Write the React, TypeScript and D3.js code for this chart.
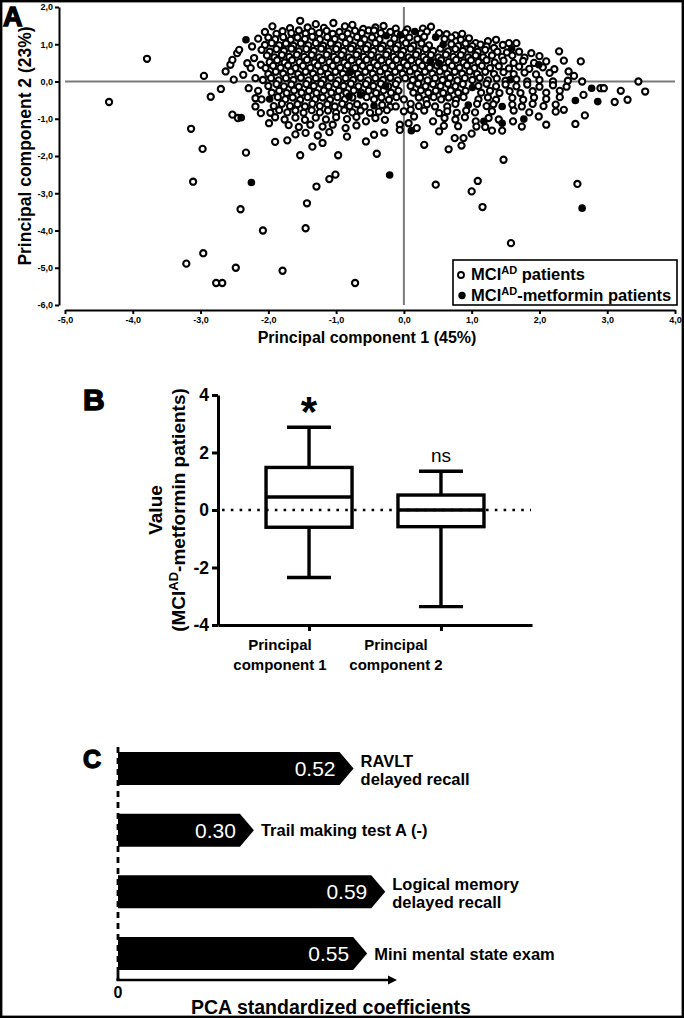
import React, { useEffect, useRef } from "react";
import * as d3 from "d3";

// ---------- Panel A : PCA scores ----------
const mciLeftFringe: [number, number][] = [
  [-2.95, 0.15], [-2.85, -0.41], [-2.7, -0.2], [-2.63, 0.27], [-2.56, 0.45], [-2.53, 0.58],
  [-2.46, 0.76], [-2.43, 0.85], [-2.51, 0.05], [-2.31, 0.49], [-2.29, -0.18], [-2.24, 0.94],
  [-2.21, 0.63], [-2.26, 0.36], [-2.11, 0.45], [-2.19, 0.09], [-2.19, -0.45], [-2.19, -0.67],
  [-2.53, -0.89], [-2.45, -0.98], [-2.11, -0.85], [-2.37, 0.18], [-2.15, -0.25],
];

const mciCoreUpper: [number, number][] = [
  [-1.94, 1.48], [-1.68, 1.43], [-1.53, 1.63], [-1.42, 1.45], [-1.3, 1.54], [-1.18, 1.44], [-1.04, 1.57],
  [-0.87, 1.48], [-0.76, 1.52], [-0.6, 1.41], [-0.42, 1.45], [-0.3, 1.49], [-0.12, 1.42], [0.05, 1.4],
  [0.28, 1.42], [0.4, 1.47],
  [-2.05, 1.33], [-1.88, 1.28], [-1.79, 1.35], [-1.66, 1.3], [-1.55, 1.37], [-1.45, 1.29], [-1.36, 1.34],
  [-1.25, 1.3], [-1.14, 1.36], [-1.05, 1.28], [-0.95, 1.33], [-0.83, 1.29], [-0.72, 1.36], [-0.62, 1.3],
  [-0.52, 1.37], [-0.44, 1.37], [-0.34, 1.3], [-0.2, 1.33], [-0.1, 1.28], [0.02, 1.31], [0.25, 1.29],
  [0.34, 1.34], [0.52, 1.3], [0.63, 1.27], [0.76, 1.24], [0.86, 1.28],
  [-2.15, 1.15], [-2.0, 1.18], [-1.9, 1.13], [-1.78, 1.19], [-1.67, 1.12], [-1.57, 1.18], [-1.46, 1.14],
  [-1.35, 1.2], [-1.24, 1.13], [-1.13, 1.19], [-1.02, 1.14], [-0.91, 1.2], [-0.8, 1.13], [-0.69, 1.19],
  [-0.58, 1.13], [-0.47, 1.18], [-0.36, 1.13], [-0.14, 1.15], [-0.02, 1.12], [0.08, 1.18], [0.2, 1.14],
  [0.3, 1.2], [0.6, 1.14], [0.7, 1.18], [0.84, 1.12], [0.96, 1.16], [1.06, 1.03], [1.13, 0.99],
  [1.24, 1.08], [1.36, 1.12],
  [-2.05, 0.98], [-1.95, 1.03], [-1.84, 0.97], [-1.74, 1.02], [-1.63, 0.96], [-1.52, 1.02], [-1.41, 0.97],
  [-1.3, 1.03], [-1.19, 0.96], [-1.08, 1.02], [-0.97, 0.97], [-0.86, 1.03], [-0.75, 0.96], [-0.64, 1.02],
  [-0.53, 0.97], [-0.42, 1.03], [-0.31, 0.96], [-0.2, 1.02], [-0.09, 0.97], [0.03, 1.03], [0.14, 0.96],
  [0.26, 1.02], [0.37, 0.97], [0.7, 1.0], [0.8, 0.95], [0.91, 1.02], [1.01, 0.95], [1.22, 0.94],
  [1.33, 0.9], [1.46, 0.98], [1.55, 1.03], [1.66, 1.03],
  [-2.1, 0.85], [-1.98, 0.8], [-1.88, 0.87], [-1.77, 0.82], [-1.66, 0.88], [-1.55, 0.81], [-1.44, 0.87],
  [-1.33, 0.82], [-1.22, 0.88], [-1.11, 0.81], [-1.0, 0.87], [-0.89, 0.82], [-0.78, 0.88], [-0.67, 0.81],
  [-0.56, 0.87], [-0.45, 0.82], [-0.34, 0.88], [-0.23, 0.81], [-0.12, 0.87], [-0.01, 0.82], [0.1, 0.88],
  [0.21, 0.81], [0.32, 0.87], [0.43, 0.82], [0.54, 0.88], [0.65, 0.81], [0.76, 0.87], [0.87, 0.82],
  [0.98, 0.86], [1.09, 0.8], [1.2, 0.85], [1.38, 0.8], [1.52, 0.78], [1.7, 0.8], [1.88, 0.76], [2.29, 0.81],
  [-2.02, 0.7], [-1.91, 0.65], [-1.8, 0.71], [-1.69, 0.66], [-1.58, 0.72], [-1.47, 0.66], [-1.36, 0.71],
  [-1.25, 0.65], [-1.14, 0.72], [-1.03, 0.66], [-0.92, 0.71], [-0.81, 0.65], [-0.7, 0.72], [-0.59, 0.66],
  [-0.48, 0.71], [-0.37, 0.65], [-0.26, 0.72], [-0.15, 0.66], [-0.04, 0.71], [0.07, 0.65], [0.18, 0.72],
  [0.29, 0.66], [0.4, 0.71], [0.51, 0.65], [0.62, 0.72], [0.73, 0.66], [0.84, 0.71], [0.95, 0.65],
  [1.06, 0.7], [1.17, 0.65], [1.3, 0.7], [1.45, 0.66], [1.6, 0.7], [1.78, 0.64], [2.0, 0.68], [2.36, 0.56],
  [-1.98, 0.52], [-1.87, 0.57], [-1.76, 0.51], [-1.65, 0.57], [-1.54, 0.52], [-1.43, 0.58], [-1.32, 0.51],
  [-1.21, 0.57], [-1.1, 0.52], [-0.99, 0.58], [-0.88, 0.51], [-0.77, 0.57], [-0.66, 0.52], [-0.55, 0.58],
  [-0.44, 0.51], [-0.33, 0.57], [-0.22, 0.52], [-0.11, 0.58], [0.0, 0.51], [0.11, 0.57], [0.22, 0.52],
  [0.33, 0.58], [0.44, 0.51], [0.55, 0.57], [0.66, 0.52], [0.77, 0.58], [0.88, 0.51], [0.99, 0.57],
  [1.1, 0.52], [1.22, 0.57], [1.34, 0.51], [1.47, 0.56], [1.62, 0.5], [1.76, 0.55], [1.92, 0.5],
  [2.1, 0.54], [2.61, 0.54],
  [-2.04, 0.36], [-1.93, 0.42], [-1.82, 0.37], [-1.71, 0.43], [-1.6, 0.36], [-1.49, 0.42], [-1.38, 0.37],
  [-1.27, 0.43], [-1.16, 0.36], [-1.05, 0.42], [-0.94, 0.37], [-0.83, 0.43], [-0.72, 0.36], [-0.61, 0.42],
  [-0.5, 0.37], [-0.39, 0.43], [-0.28, 0.36], [-0.17, 0.42], [-0.06, 0.37], [0.05, 0.43], [0.16, 0.36],
  [0.27, 0.42], [0.38, 0.37], [0.49, 0.43], [0.6, 0.36], [0.71, 0.42], [0.82, 0.37], [0.93, 0.43],
  [1.04, 0.36], [1.15, 0.42], [1.27, 0.36], [1.4, 0.41], [1.55, 0.35], [1.7, 0.4], [1.85, 0.34],
  [2.05, 0.38], [2.22, 0.33], [2.43, 0.27],
  [-2.0, 0.2], [-1.89, 0.26], [-1.78, 0.21], [-1.67, 0.27], [-1.56, 0.2], [-1.45, 0.26], [-1.34, 0.21],
  [-1.23, 0.27], [-1.12, 0.2], [-1.01, 0.26], [-0.9, 0.21], [-0.79, 0.27], [-0.68, 0.2], [-0.57, 0.26],
  [-0.46, 0.21], [-0.35, 0.27], [-0.24, 0.2], [-0.13, 0.26], [-0.02, 0.21], [0.09, 0.27], [0.2, 0.2],
  [0.31, 0.26], [0.42, 0.21], [0.53, 0.27], [0.64, 0.2], [0.75, 0.26], [0.86, 0.21], [0.97, 0.27],
  [1.08, 0.2], [1.2, 0.26], [1.33, 0.2], [1.47, 0.25], [1.62, 0.2], [1.78, 0.24], [1.95, 0.19],
  [2.15, 0.23], [2.51, 0.15],
];

const mciCoreLower: [number, number][] = [
  [-2.08, 0.04], [-1.96, 0.09], [-1.85, 0.03], [-1.74, 0.09], [-1.63, 0.04], [-1.52, 0.1], [-1.41, 0.03],
  [-1.3, 0.09], [-1.19, 0.04], [-1.08, 0.1], [-0.97, 0.03], [-0.86, 0.09], [-0.75, 0.04], [-0.64, 0.1],
  [-0.53, 0.03], [-0.42, 0.09], [-0.31, 0.04], [-0.2, 0.1], [-0.09, 0.03], [0.02, 0.09], [0.13, 0.04],
  [0.24, 0.1], [0.35, 0.03], [0.46, 0.09], [0.57, 0.04], [0.68, 0.1], [0.79, 0.03], [0.9, 0.09],
  [1.01, 0.04], [1.12, 0.1], [1.24, 0.03], [1.37, 0.08], [1.5, 0.02], [1.66, 0.06], [1.82, 0.0],
  [2.0, 0.04], [2.2, 0.0], [2.42, 0.02], [2.63, 0.0], [3.46, 0.0],
  [-2.0, -0.12], [-1.88, -0.07], [-1.77, -0.13], [-1.66, -0.08], [-1.55, -0.14], [-1.44, -0.07],
  [-1.33, -0.12], [-1.22, -0.06], [-1.11, -0.13], [-1.0, -0.07], [-0.89, -0.12], [-0.78, -0.06],
  [-0.67, -0.13], [-0.56, -0.07], [-0.45, -0.12], [-0.34, -0.06], [-0.23, -0.13], [-0.12, -0.07],
  [0.1, -0.12], [0.21, -0.06], [0.32, -0.13], [0.43, -0.07], [0.54, -0.12], [0.65, -0.06], [0.76, -0.13],
  [0.87, -0.07], [1.1, -0.12], [1.22, -0.06], [1.36, -0.13], [1.5, -0.08], [1.66, -0.13], [1.82, -0.08],
  [2.0, -0.14], [2.2, -0.1], [2.4, -0.14], [2.9, -0.18], [2.95, -0.18],
  [-1.95, -0.3], [-1.84, -0.25], [-1.73, -0.31], [-1.62, -0.24], [-1.51, -0.3], [-1.4, -0.25],
  [-1.29, -0.31], [-1.18, -0.24], [-1.07, -0.3], [-0.96, -0.25], [-0.85, -0.31], [-0.74, -0.24],
  [-0.63, -0.3], [-0.52, -0.25], [-0.41, -0.31], [-0.3, -0.24], [-0.19, -0.3], [-0.08, -0.25],
  [0.14, -0.3], [0.25, -0.24], [0.36, -0.3], [0.47, -0.25], [0.58, -0.31], [0.69, -0.24], [0.8, -0.3],
  [0.91, -0.25], [1.14, -0.3], [1.27, -0.25], [1.41, -0.31], [1.56, -0.26], [1.72, -0.31], [1.9, -0.26],
  [2.1, -0.3], [2.3, -0.25], [2.65, -0.36], [3.2, -0.25], [3.56, -0.27],
  [-2.1, -0.48], [-1.86, -0.42], [-1.75, -0.48], [-1.64, -0.43], [-1.53, -0.49], [-1.42, -0.42],
  [-1.31, -0.48], [-1.2, -0.43], [-1.09, -0.49], [-0.98, -0.42], [-0.87, -0.48], [-0.76, -0.43],
  [-0.55, -0.42], [-0.44, -0.48], [-0.33, -0.43], [-0.22, -0.49], [-0.11, -0.42], [0.0, -0.48],
  [0.22, -0.43], [0.33, -0.49], [0.44, -0.42], [0.55, -0.48], [0.66, -0.43], [0.77, -0.49], [0.88, -0.42],
  [1.1, -0.48], [1.24, -0.43], [1.36, -0.49], [1.6, -0.44], [1.76, -0.49], [1.92, -0.43], [2.1, -0.47],
  [2.3, -0.42], [3.3, -0.49],
  [-1.92, -0.66], [-1.8, -0.6], [-1.68, -0.66], [-1.57, -0.61], [-1.46, -0.67], [-1.35, -0.6],
  [-1.24, -0.66], [-1.13, -0.61], [-1.02, -0.67], [-0.91, -0.6], [-0.8, -0.66], [-0.69, -0.61],
  [-0.58, -0.67], [-0.32, -0.63], [-0.2, -0.68], [-0.12, -0.67], [0.1, -0.6], [0.22, -0.66], [0.34, -0.61],
  [0.46, -0.67], [0.64, -0.67], [0.76, -0.6], [1.08, -0.6], [1.22, -0.66], [1.32, -0.61], [1.6, -0.62],
  [1.74, -0.67], [1.9, -0.6], [2.06, -0.66], [2.24, -0.62], [3.11, -0.55],
  [-1.97, -0.84], [-1.84, -0.77], [-1.72, -0.83], [-1.6, -0.78], [-1.48, -0.84], [-1.36, -0.77],
  [-1.24, -0.83], [-1.12, -0.78], [-1.0, -0.84], [-0.88, -0.77], [-0.76, -0.83], [-0.64, -0.78],
  [-0.5, -0.84], [-0.37, -0.81], [-0.25, -0.77], [0.0, -0.8], [0.1, -0.76], [0.3, -0.78], [0.52, -0.85],
  [0.64, -0.8], [0.78, -0.84], [0.92, -0.78], [1.05, -0.83], [1.3, -0.8], [1.62, -0.78], [1.85, -0.83],
  [2.24, -0.81], [2.36, -0.76], [2.67, -0.91],
  [-1.9, -0.96], [-1.76, -1.02], [-1.6, -0.97], [-1.46, -1.03], [-1.3, -0.97], [-1.15, -1.02], [-1.0, -0.96],
  [-0.84, -1.01], [-0.7, -0.95], [-0.56, -1.07], [-0.42, -0.98], [-0.28, -1.03], [0.15, -0.94],
  [0.43, -1.07], [0.6, -0.98], [0.76, -1.02], [0.9, -0.96], [1.06, -1.07], [1.25, -0.98], [1.4, -1.02],
  [1.61, -1.07], [1.99, -0.94],
];

const mciLowerTail: [number, number][] = [
  [-1.99, -1.12], [-1.7, -1.17], [-1.55, -1.22], [-1.38, -1.16], [-1.2, -1.21], [-1.05, -1.16],
  [-0.86, -1.25], [-0.7, -1.18], [-0.06, -1.16], [0.07, -1.12], [0.19, -1.25], [0.59, -1.19], [0.8, -1.2],
  [1.07, -1.21], [1.2, -1.22], [1.74, -1.21], [2.1, -1.16], [2.53, -1.14],
  [-1.6, -1.42], [-1.45, -1.38], [-1.27, -1.45], [-1.1, -1.36], [-0.84, -1.48], [-0.44, -1.43],
  [-0.29, -1.37], [-0.06, -1.3], [0.52, -1.34], [0.75, -1.52], [0.88, -1.52], [1.0, -1.4], [1.3, -1.32],
  [1.45, -1.32],
  [-2.33, -1.91], [-1.9, -1.62], [-1.72, -1.58], [-1.35, -1.75], [-1.2, -1.65], [-0.56, -1.61],
  [0.3, -1.7], [0.85, -1.72],
];

const mciOutliers: [number, number][] = [
  [-4.35, -0.55], [-3.79, 0.61], [-3.14, -1.27], [-2.97, -1.81], [-3.11, -2.69], [-2.41, -3.43],
  [-2.08, -4.0], [-2.96, -4.61], [-3.21, -4.89], [-2.77, -5.41], [-2.68, -5.41], [-2.48, -5.0],
  [-1.79, -5.08], [-1.43, -3.27], [-1.45, -3.94], [-1.29, -2.82], [-1.1, -2.62], [-1.01, -2.5],
  [-0.72, -5.41], [0.47, -2.77], [1.09, -2.67], [1.0, -2.95], [1.16, -3.37], [1.58, -4.34], [2.56, -2.75],
  [-1.53, -1.98], [-0.97, -1.98], [-0.4, -1.94], [1.47, -2.1], [0.66, -1.82],
];

const metforminPoints: [number, number][] = [
  [-2.33, 1.12], [-2.4, -0.97], [-1.98, -0.47], [-2.25, -2.71], [-0.21, -2.51], [2.63, -3.4],
  [2.86, -0.54], [2.77, -0.18], [2.53, -0.51], [1.59, 0.88], [1.77, -1.01], [1.45, -1.12], [1.45, -0.67],
  [1.18, -1.07], [0.95, -0.63], [1.01, -0.16], [0.11, -1.32], [-0.44, -0.65], [0.16, 1.34], [-0.05, 1.25],
  [-0.26, 1.23], [0.47, 1.19], [0.58, 0.99], [-0.8, 0.24], [-0.27, -0.12], [0.39, 0.54], [1.57, 0.05],
  [1.99, 0.45], [-0.81, -0.4], [-0.64, -0.36], [0.52, 0.49],
];

const pcaXTicks = [-5, -4, -3, -2, -1, 0, 1, 2, 3, 4];
const pcaYTicks = [-6, -5, -4, -3, -2, -1, 0, 1, 2];

// ---------- Panel B : box plots ----------
const boxCategories = ["Principal component 1", "Principal component 2"];
const boxWhiskerLow = [-2.35, -3.36];
const boxQ1 = [-0.6, -0.58];
const boxMedian = [0.45, 0];
const boxQ3 = [1.48, 0.52];
const boxWhiskerHigh = [2.88, 1.35];
const boxAnnotations = ["*", "ns"];
const boxYTicks = [-4, -2, 0, 2, 4];

// ---------- Panel C : standardized coefficients ----------
const coefLabels = [
  ["RAVLT", "delayed recall"],
  ["Trail making test A (-)"],
  ["Logical memory", "delayed recall"],
  ["Mini mental state exam"],
];
const coefValues = [0.52, 0.3, 0.59, 0.55];

const FONT = "'Liberation Sans', Arial, Helvetica, sans-serif";

export default function App() {
  const svgRef = useRef<SVGSVGElement>(null);

  useEffect(() => {
    const W = 684, H = 1018;
    const svg = d3.select(svgRef.current)
      .html("")
      .attr("width", W)
      .attr("height", H)
      .style("font-family", FONT);

    svg.append("rect")
      .attr("x", 1.2).attr("y", 1.2)
      .attr("width", W - 2.4).attr("height", H - 2.4)
      .attr("fill", "#fff")
      .attr("stroke", "#000")
      .attr("stroke-width", 2.4);

    const panelLetter = (txt: string, x: number, y: number, size: number) =>
      svg.append("text")
        .attr("x", x).attr("y", y)
        .text(txt)
        .style("font-size", `${size}px`)
        .style("font-weight", "900")
        .attr("stroke", "#000")
        .attr("stroke-width", 1.4)
        .attr("fill", "#000");

    // ================= Panel A =================
    const xA = d3.scaleLinear().domain([-5, 4]).range([65, 675]);
    const yA = d3.scaleLinear().domain([-6, 2]).range([305, 7]);
    const fmtComma = (v: number) => d3.format(".1f")(v).replace(".", ",").replace("\u2212", "-");

    const gA = svg.append("g");

    // reference lines at 0
    gA.append("line")
      .attr("x1", xA(-5)).attr("x2", xA(4))
      .attr("y1", yA(0)).attr("y2", yA(0))
      .attr("stroke", "#7a7a7a").attr("stroke-width", 2);
    gA.append("line")
      .attr("x1", xA(0)).attr("x2", xA(0))
      .attr("y1", yA(2)).attr("y2", yA(-6))
      .attr("stroke", "#7a7a7a").attr("stroke-width", 2);

    // axes
    const axA_y = gA.append("g")
      .attr("transform", "translate(59,0)")
      .call(d3.axisLeft(yA).tickValues(pcaYTicks).tickSize(4).tickSizeOuter(0).tickPadding(2).tickFormat(fmtComma as any));
    const axA_x = gA.append("g")
      .attr("transform", "translate(0,310)")
      .call(d3.axisBottom(xA).tickValues(pcaXTicks).tickSize(4).tickSizeOuter(0).tickPadding(3).tickFormat(fmtComma as any));
    [axA_y, axA_x].forEach(ax => {
      ax.selectAll("path, line").attr("stroke", "#000").attr("stroke-width", 2);
      ax.selectAll("text")
        .style("font-family", FONT)
        .style("font-size", "9px")
        .style("font-weight", "bold")
        .attr("fill", "#000");
    });

    // points
    const allMci = [...mciLeftFringe, ...mciCoreUpper, ...mciCoreLower, ...mciLowerTail, ...mciOutliers];
    gA.append("g").selectAll("circle")
      .data(allMci)
      .enter()
      .append("circle")
      .attr("cx", d => xA(d[0]))
      .attr("cy", d => yA(d[1]))
      .attr("r", 3.1)
      .attr("fill", "#fff")
      .attr("stroke", "#000")
      .attr("stroke-width", 2.1);
    gA.append("g").selectAll("circle")
      .data(metforminPoints)
      .enter()
      .append("circle")
      .attr("cx", d => xA(d[0]))
      .attr("cy", d => yA(d[1]))
      .attr("r", 3.8)
      .attr("fill", "#000");

    // axis titles
    svg.append("text")
      .attr("transform", "translate(31,146) rotate(-90)")
      .attr("text-anchor", "middle")
      .text("Principal component 2 (23%)")
      .style("font-size", "17.5px")
      .style("font-weight", "bold");
    svg.append("text")
      .attr("x", 367).attr("y", 343)
      .attr("text-anchor", "middle")
      .text("Principal component 1 (45%)")
      .style("font-size", "16px")
      .style("font-weight", "bold");

    // legend
    const leg = svg.append("g");
    leg.append("rect")
      .attr("x", 453).attr("y", 260).attr("width", 224).attr("height", 45)
      .attr("fill", "#fff").attr("stroke", "#000").attr("stroke-width", 1.6);
    leg.append("circle").attr("cx", 461).attr("cy", 275).attr("r", 3)
      .attr("fill", "#fff").attr("stroke", "#000").attr("stroke-width", 1.9);
    leg.append("circle").attr("cx", 462).attr("cy", 295.5).attr("r", 3.7).attr("fill", "#000");
    const legText = (y: number, rest: string) => {
      const t = leg.append("text").attr("x", 471).attr("y", y)
        .style("font-size", "16.5px").style("font-weight", "bold");
      t.append("tspan").text("MCI");
      t.append("tspan").attr("dy", -6).style("font-size", "11px").text("AD");
      t.append("tspan").attr("dy", 6).text(rest);
    };
    legText(280, " patients");
    legText(301, "-metformin patients");

    panelLetter("A", 3, 26, 27);

    // ================= Panel B =================
    const yB = d3.scaleLinear().domain([-4, 4]).range([625, 395]);
    const xB = d3.scalePoint<string>().domain(boxCategories).range([218, 532]).padding(0.69);
    const catLabelX = d3.scalePoint<string>().domain(boxCategories).range([218, 458]).padding(0.534);
    const gB = svg.append("g");

    const axB_y = gB.append("g")
      .attr("transform", "translate(218,0)")
      .call(d3.axisLeft(yB).tickValues(boxYTicks).tickSize(6).tickSizeOuter(0).tickPadding(3)
        .tickFormat((d: any) => (d < 0 ? "-" + Math.abs(d) : String(d))));
    const axB_x = gB.append("g")
      .attr("transform", "translate(0,625)")
      .call(d3.axisBottom(xB).tickSize(6).tickSizeOuter(0).tickFormat(() => ""));
    [axB_y, axB_x].forEach(ax => {
      ax.selectAll("path, line").attr("stroke", "#000").attr("stroke-width", 3);
      ax.selectAll("text")
        .style("font-family", FONT)
        .style("font-size", "17.5px")
        .style("font-weight", "bold")
        .attr("fill", "#000");
    });

    // zero line
    gB.append("line")
      .attr("x1", 222).attr("x2", 531)
      .attr("y1", yB(0)).attr("y2", yB(0))
      .attr("stroke", "#000").attr("stroke-width", 2.6)
      .attr("stroke-dasharray", "2.6,6.2");

    const boxW = 86, capW = 44;
    boxCategories.forEach((cat, i) => {
      const cx = xB(cat) as number;
      const g = gB.append("g").attr("stroke", "#000").attr("stroke-width", 3.4).attr("fill", "none");
      g.append("line").attr("x1", cx).attr("x2", cx).attr("y1", yB(boxWhiskerHigh[i])).attr("y2", yB(boxQ3[i]));
      g.append("line").attr("x1", cx).attr("x2", cx).attr("y1", yB(boxQ1[i])).attr("y2", yB(boxWhiskerLow[i]));
      g.append("line").attr("x1", cx - capW / 2).attr("x2", cx + capW / 2)
        .attr("y1", yB(boxWhiskerHigh[i])).attr("y2", yB(boxWhiskerHigh[i]));
      g.append("line").attr("x1", cx - capW / 2).attr("x2", cx + capW / 2)
        .attr("y1", yB(boxWhiskerLow[i])).attr("y2", yB(boxWhiskerLow[i]));
      g.append("rect")
        .attr("x", cx - boxW / 2).attr("y", yB(boxQ3[i]))
        .attr("width", boxW).attr("height", yB(boxQ1[i]) - yB(boxQ3[i]));
      g.append("line").attr("x1", cx - boxW / 2).attr("x2", cx + boxW / 2)
        .attr("y1", yB(boxMedian[i])).attr("y2", yB(boxMedian[i]));

      const ann = boxAnnotations[i];
      if (ann === "*") {
        gB.append("text").attr("x", cx).attr("y", yB(boxWhiskerHigh[i]) - 1)
          .attr("text-anchor", "middle").text(ann)
          .style("font-size", "42px").style("font-weight", "bold");
      } else {
        gB.append("text").attr("x", cx).attr("y", yB(boxWhiskerHigh[i]) - 9)
          .attr("text-anchor", "middle").text(ann)
          .style("font-size", "19px");
      }

      const lx = catLabelX(cat) as number;
      const words = cat.split(" ");
      gB.append("text").attr("x", lx).attr("y", 650).attr("text-anchor", "middle")
        .text(words[0]).style("font-size", "15px").style("font-weight", "bold");
      gB.append("text").attr("x", lx).attr("y", 670).attr("text-anchor", "middle")
        .text(words.slice(1).join(" ")).style("font-size", "15px").style("font-weight", "bold");
    });

    const yTitle = svg.append("g").attr("transform", "translate(0,510)");
    yTitle.append("text")
      .attr("transform", "translate(162,0) rotate(-90)")
      .attr("text-anchor", "middle")
      .text("Value")
      .style("font-size", "19px").style("font-weight", "bold");
    const t2 = yTitle.append("text")
      .attr("transform", "translate(185,0) rotate(-90)")
      .attr("text-anchor", "middle")
      .style("font-size", "19px").style("font-weight", "bold");
    t2.append("tspan").text("(MCI");
    t2.append("tspan").attr("dy", -7).style("font-size", "13px").text("AD");
    t2.append("tspan").attr("dy", 7).text("-metformin patients)");

    panelLetter("B", 83, 410, 30);

    // ================= Panel C =================
    const xC = d3.scaleLinear().domain([0, 1]).range([118, 571]);
    const keys = coefLabels.map(l => l.join(" "));
    const yC = d3.scalePoint<string>().domain(keys).range([768.5, 953.5]);
    const barH = 33, notch = 14;
    const gC = svg.append("g");

    // dashed vertical axis
    gC.append("line")
      .attr("x1", xC(0)).attr("x2", xC(0)).attr("y1", 747).attr("y2", 980)
      .attr("stroke", "#000").attr("stroke-width", 2.8).attr("stroke-dasharray", "6,5");
    gC.append("line")
      .attr("x1", xC(0)).attr("x2", xC(0)).attr("y1", 973).attr("y2", 981)
      .attr("stroke", "#000").attr("stroke-width", 2.8);
    // horizontal axis with arrowhead
    gC.append("line")
      .attr("x1", xC(0) - 1.4).attr("x2", 392).attr("y1", 980).attr("y2", 980)
      .attr("stroke", "#000").attr("stroke-width", 2.6);
    gC.append("path")
      .attr("d", "M397,980 L388,975.5 L388,984.5 Z")
      .attr("fill", "#000");

    coefValues.forEach((v, i) => {
      const cy = yC(keys[i]) as number;
      const x0 = xC(0), tip = xC(v), top = cy - barH / 2, bot = cy + barH / 2;
      const p = d3.path();
      p.moveTo(x0, top);
      p.lineTo(tip - notch, top);
      p.lineTo(tip, cy);
      p.lineTo(tip - notch, bot);
      p.lineTo(x0, bot);
      p.closePath();
      gC.append("path").attr("d", p.toString()).attr("fill", "#000");

      gC.append("text")
        .attr("x", tip - notch - 4).attr("y", cy + 7.5)
        .attr("text-anchor", "end")
        .attr("fill", "#fff")
        .text(d3.format(".2f")(v))
        .style("font-size", "21px");

      const lines = coefLabels[i];
      const startY = lines.length === 2 ? cy - 2 : cy + 6;
      lines.forEach((ln, j) => {
        gC.append("text")
          .attr("x", tip + 7).attr("y", startY + j * 18)
          .text(ln)
          .style("font-size", "16.5px").style("font-weight", "bold");
      });
    });

    gC.append("text").attr("x", xC(0)).attr("y", 998).attr("text-anchor", "middle")
      .text("0").style("font-size", "16px").style("font-weight", "bold");
    gC.append("text").attr("x", 331).attr("y", 1014).attr("text-anchor", "middle")
      .text("PCA standardized coefficients").style("font-size", "19.5px").style("font-weight", "bold");

    panelLetter("C", 83, 768, 25);
  }, []);

  return <svg ref={svgRef} style={{ position: "absolute", left: 0, top: 0 }}></svg>;
}
